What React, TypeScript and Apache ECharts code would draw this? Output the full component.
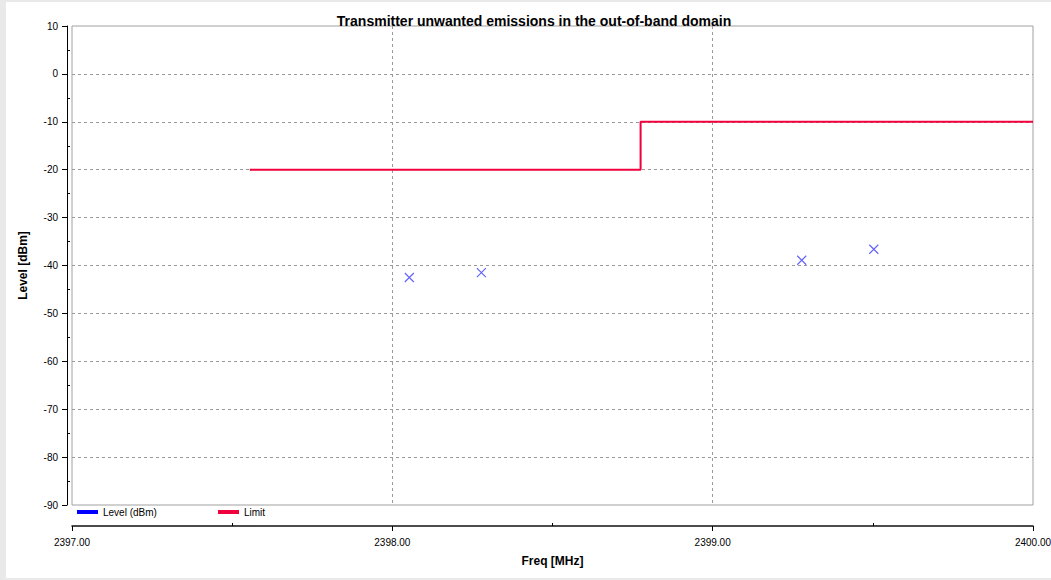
import React, { useEffect, useRef } from "react";
import * as echarts from "echarts";

const TITLE = "Transmitter unwanted emissions in the out-of-band domain";
const X_NAME = "Freq [MHz]";
const Y_NAME = "Level [dBm]";

const levelFreqs = [2398.053, 2398.278, 2399.278, 2399.503];
const levelValues = [-42.5, -41.5, -38.9, -36.6];

const limitFreqs = [2397.555, 2398.775, 2398.775, 2400.0];
const limitValues = [-20, -20, -10, -10];

const xMinorTicks = [2397.5, 2398.5, 2399.5];
const yMinorTicks = [-85, -75, -65, -55, -45, -35, -25, -15, -5, 5];

const FONT = "'Liberation Sans', Arial, Helvetica, sans-serif";

export default function App() {
  const ref = useRef<HTMLDivElement>(null);
  useEffect(() => {
    if (!ref.current) return;
    const chart = echarts.init(ref.current, null, { renderer: "svg" });
    const levelData = levelFreqs.map((f, i) => [f, levelValues[i]]);
    const limitData = limitFreqs.map((f, i) => [f, limitValues[i]]);
    const gridLine = { show: true, showMinLine: false, showMaxLine: false, lineStyle: { color: "#9a9a9a", type: [3, 3], width: 1 } };
    chart.setOption({
      animation: false,
      backgroundColor: "#e9e9e9",
      title: {
        text: TITLE,
        left: 529,
        top: 9,
        textAlign: "center",
        textStyle: { fontFamily: FONT, fontSize: 14, fontWeight: "bold", color: "#000" },
      },
      graphic: [
        { type: "rect", z: -10, silent: true, shape: { x: 6, y: 2, width: 1045, height: 576 }, style: { fill: "#ffffff" } },
      ],
      grid: [
        {
          left: 72,
          top: 26,
          right: 18,
          bottom: 75,
          outerBoundsMode: "none",
          containLabel: false,
          show: true,
          borderColor: "#a0a0a0",
          borderWidth: 1,
          backgroundColor: "#ffffff",
        },
        {
          left: 72,
          top: 516,
          right: 18,
          height: 10,
          outerBoundsMode: "none",
          containLabel: false,
          show: false,
        },
      ],
      legend: [
        {
          data: [{ name: "Level (dBm)", icon: "rect", itemStyle: { color: "#0000ff", borderWidth: 0, opacity: 1 } }],
          left: 77,
          top: 507,
          padding: 0,
          itemWidth: 21,
          itemHeight: 4,
          textStyle: { fontFamily: FONT, fontSize: 10, color: "#000" },
        },
        {
          data: [{ name: "Limit", icon: "rect", itemStyle: { color: "#f0003c", borderWidth: 0, opacity: 1 } }],
          left: 218,
          top: 507,
          padding: 0,
          itemWidth: 21,
          itemHeight: 4,
          textStyle: { fontFamily: FONT, fontSize: 10, color: "#000" },
        },
      ],
      xAxis: [
        {
          gridIndex: 0,
          type: "value",
          min: 2397,
          max: 2400,
          interval: 1,
          position: "bottom",
          axisLine: { show: false, onZero: false },
          axisTick: { show: false },
          axisLabel: { show: false },
          splitLine: gridLine,
        },
        {
          gridIndex: 1,
          type: "value",
          min: 2397,
          max: 2400,
          interval: 1,
          position: "bottom",
          name: X_NAME,
          nameLocation: "middle",
          nameGap: 29,
          nameTextStyle: { fontFamily: FONT, fontSize: 12, fontWeight: "bold", color: "#000" },
          axisLine: { show: true, onZero: false, lineStyle: { color: "#111111", width: 1.5 } },
          axisTick: { show: true, length: 5, lineStyle: { color: "#000" } },
          axisLabel: {
            margin: 11,
            fontFamily: FONT,
            fontSize: 10,
            color: "#000",
            formatter: (v: number) => v.toFixed(2),
          },
          splitLine: { show: false },
        },
        {
          gridIndex: 1,
          type: "value",
          min: 2397,
          max: 2400,
          interval: 0.5,
          position: "bottom",
          axisLine: { show: false, onZero: false },
          axisTick: { show: true, inside: true, length: 3, customValues: xMinorTicks, lineStyle: { color: "#000" } },
          axisLabel: { show: false },
          splitLine: { show: false },
        },
      ],
      yAxis: [
        {
          gridIndex: 0,
          type: "value",
          min: -90,
          max: 10,
          interval: 10,
          offset: 5,
          position: "left",
          name: Y_NAME,
          nameLocation: "middle",
          nameGap: 38,
          nameTextStyle: { fontFamily: FONT, fontSize: 12, fontWeight: "bold", color: "#000" },
          axisLine: { show: true, onZero: false, lineStyle: { color: "#000", width: 1 } },
          axisTick: { show: true, length: 5, lineStyle: { color: "#000" } },
          axisLabel: { margin: 9, fontFamily: FONT, fontSize: 10, color: "#000" },
          splitLine: gridLine,
        },
        {
          gridIndex: 0,
          type: "value",
          min: -90,
          max: 10,
          interval: 5,
          offset: 5,
          position: "left",
          axisLine: { show: false, onZero: false },
          axisTick: { show: true, inside: true, length: 3, customValues: yMinorTicks, lineStyle: { color: "#000" } },
          axisLabel: { show: false },
          splitLine: { show: false },
        },
        {
          gridIndex: 1,
          type: "value",
          min: 0,
          max: 1,
          show: false,
        },
      ],
      series: [
        {
          name: "Level (dBm)",
          type: "scatter",
          xAxisIndex: 0,
          yAxisIndex: 0,
          data: levelData,
          symbol: "path://M0,0L10,10M10,0L0,10",
          symbolSize: 9,
          itemStyle: { color: "transparent", borderColor: "#6464ff", borderWidth: 1.2, opacity: 1 },
          z: 5,
        },
        {
          name: "Limit",
          type: "line",
          xAxisIndex: 0,
          yAxisIndex: 0,
          data: limitData,
          showSymbol: false,
          symbol: "none",
          lineStyle: { color: "#f0003c", width: 2 },
          itemStyle: { color: "#f0003c" },
          z: 4,
        },
      ],
    });
    return () => chart.dispose();
  }, []);
  return (
    <div
      ref={ref}
      style={{ position: "fixed", left: 0, top: 0, width: 1051, height: 580 }}
    />
  );
}
